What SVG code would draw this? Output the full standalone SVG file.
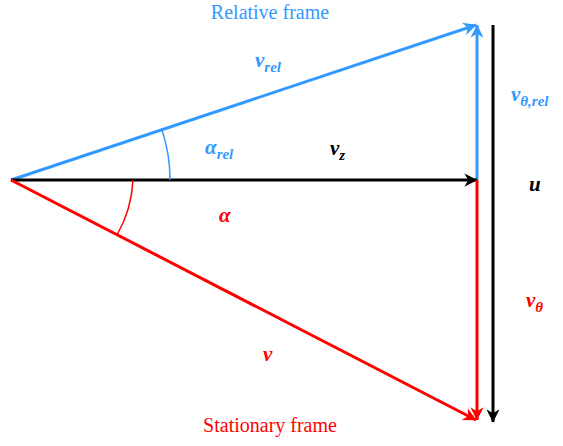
<svg xmlns="http://www.w3.org/2000/svg" width="563" height="446" viewBox="0 0 563 446">
<style>
.m{font-family:'Liberation Serif','DejaVu Serif',serif;font-style:italic;font-weight:bold;font-size:21px}
.s{font-size:15px}
.t{font-family:'Liberation Serif','Times New Roman',serif;font-size:20px}
.b{fill:#3399ff}.r{fill:#ff0000}.k{fill:#000}
</style>
<defs>
<marker id="ab" viewBox="0 0 10 10" refX="9" refY="5" markerWidth="6" markerHeight="6" markerUnits="userSpaceOnUse" orient="auto" style="overflow:visible"><path d="M0,0 L10,5 L0,10 L3,5 Z" fill="#3399ff" transform="scale(2.2) translate(-5.5,-2.7)"/></marker>
<marker id="ar" viewBox="0 0 10 10" refX="9" refY="5" markerWidth="6" markerHeight="6" markerUnits="userSpaceOnUse" orient="auto" style="overflow:visible"><path d="M0,0 L10,5 L0,10 L3,5 Z" fill="#ff0000" transform="scale(2.2) translate(-5.5,-2.7)"/></marker>
<marker id="ak" viewBox="0 0 10 10" refX="9" refY="5" markerWidth="6" markerHeight="6" markerUnits="userSpaceOnUse" orient="auto" style="overflow:visible"><path d="M0,0 L10,5 L0,10 L3,5 Z" fill="#000" transform="scale(2.2) translate(-5.5,-2.7)"/></marker>
</defs>
<g id="connectors" fill="none" stroke-width="3">
<line x1="11" y1="180" x2="476" y2="25" stroke="#3399ff" marker-end="url(#ab)"/>
<line x1="477" y1="180" x2="477" y2="25" stroke="#3399ff" marker-end="url(#ab)"/>
<line x1="11" y1="180" x2="477" y2="180" stroke="#000" marker-end="url(#ak)"/>
<line x1="11" y1="180" x2="476" y2="420" stroke="#ff0000" marker-end="url(#ar)"/>
<line x1="477" y1="180" x2="477" y2="420" stroke="#ff0000" marker-end="url(#ar)"/>
<line x1="493" y1="25" x2="493" y2="422" stroke="#000" marker-end="url(#ak)"/>
<path d="M170,180 A159,159 0 0 0 162,130" stroke="#3399ff" stroke-width="1.5"/>
<path d="M133,180 A122,122 0 0 1 117,235" stroke="#ff0000" stroke-width="1.5"/>
</g>
<g id="labels">
<text class="t b" x="270" y="19" text-anchor="middle">Relative frame</text>
<text class="t r" x="270" y="432" text-anchor="middle">Stationary frame</text>
<text class="m b" x="255" y="67">v<tspan class="s" dy="5">rel</tspan></text>
<text class="m b" x="205" y="154">α<tspan class="s" dy="5">rel</tspan></text>
<text class="m k" x="330" y="155">v<tspan class="s" dy="5">z</tspan></text>
<text class="m k" x="529" y="191">u</text>
<text class="m b" x="511" y="101">v<tspan class="s" dy="5">θ,rel</tspan></text>
<text class="m r" x="219" y="222">α</text>
<text class="m r" x="526" y="307">v<tspan class="s" dy="5">θ</tspan></text>
<text class="m r" x="263" y="361">v</text>
</g>
</svg>
